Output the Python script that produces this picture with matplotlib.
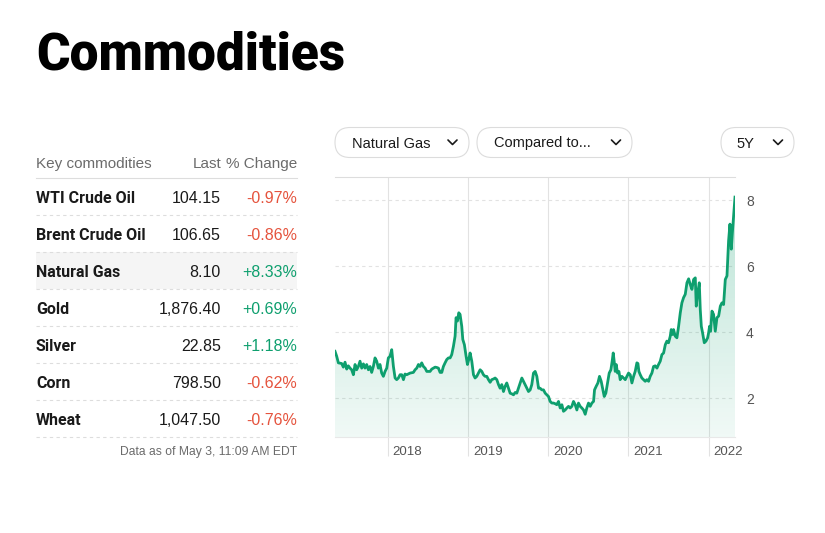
import matplotlib
matplotlib.use("Agg")
import matplotlib.pyplot as plt
import matplotlib.transforms as mtransforms
from matplotlib.patches import FancyBboxPatch, Rectangle
from matplotlib.lines import Line2D
from matplotlib.colors import to_rgb
import numpy as np

# table data
names = ["WTI Crude Oil", "Brent Crude Oil", "Natural Gas", "Gold", "Silver", "Corn", "Wheat"]
last = ["104.15", "106.65", "8.10", "1,876.40", "22.85", "798.50", "1,047.50"]
change = ["-0.97%", "-0.86%", "+8.33%", "+0.69%", "+1.18%", "-0.62%", "-0.76%"]

# natural gas, 5 years (decimal year, price)
years = [
    2017.343, 2017.364, 2017.385, 2017.426, 2017.447, 2017.468, 2017.489, 2017.509, 2017.530, 2017.551,
    2017.572, 2017.593, 2017.613, 2017.634, 2017.655, 2017.676, 2017.697, 2017.717, 2017.738, 2017.759,
    2017.780, 2017.800, 2017.821, 2017.842, 2017.863, 2017.884, 2017.904, 2017.925, 2017.946, 2017.967,
    2017.988, 2018.008, 2018.029, 2018.050, 2018.071, 2018.092, 2018.112, 2018.133, 2018.154, 2018.175,
    2018.196, 2018.216, 2018.237, 2018.279, 2018.320, 2018.341, 2018.362, 2018.383, 2018.403, 2018.424,
    2018.445, 2018.466, 2018.487, 2018.528, 2018.549, 2018.570, 2018.591, 2018.611, 2018.632, 2018.653,
    2018.674, 2018.694, 2018.715, 2018.736, 2018.757, 2018.778, 2018.798, 2018.819, 2018.840, 2018.852,
    2018.869, 2018.886, 2018.902, 2018.923, 2018.936, 2018.956, 2018.977, 2018.994, 2019.010, 2019.027,
    2019.048, 2019.069, 2019.089, 2019.110, 2019.131, 2019.152, 2019.173, 2019.193, 2019.214, 2019.235,
    2019.256, 2019.277, 2019.297, 2019.318, 2019.339, 2019.360, 2019.381, 2019.401, 2019.422, 2019.443,
    2019.464, 2019.484, 2019.505, 2019.526, 2019.547, 2019.568, 2019.588, 2019.609, 2019.630, 2019.651,
    2019.672, 2019.692, 2019.713, 2019.734, 2019.755, 2019.776, 2019.796, 2019.817, 2019.838, 2019.859,
    2019.880, 2019.900, 2019.921, 2019.942, 2019.963, 2019.983, 2020.004, 2020.025, 2020.046, 2020.067,
    2020.087, 2020.108, 2020.129, 2020.150, 2020.171, 2020.191, 2020.212, 2020.233, 2020.254, 2020.274,
    2020.295, 2020.316, 2020.337, 2020.358, 2020.378, 2020.399, 2020.420, 2020.441, 2020.462, 2020.482,
    2020.503, 2020.524, 2020.545, 2020.566, 2020.578, 2020.599, 2020.620, 2020.640, 2020.661, 2020.682,
    2020.699, 2020.719, 2020.740, 2020.761, 2020.782, 2020.798, 2020.811, 2020.823, 2020.836, 2020.848,
    2020.865, 2020.882, 2020.898, 2020.919, 2020.940, 2020.961, 2020.981, 2021.002, 2021.023, 2021.044,
    2021.065, 2021.085, 2021.106, 2021.119, 2021.131, 2021.148, 2021.168, 2021.189, 2021.210, 2021.231,
    2021.252, 2021.272, 2021.293, 2021.314, 2021.335, 2021.356, 2021.376, 2021.397, 2021.418, 2021.439,
    2021.460, 2021.480, 2021.501, 2021.522, 2021.534, 2021.551, 2021.563, 2021.584, 2021.605, 2021.626,
    2021.647, 2021.667, 2021.688, 2021.709, 2021.730, 2021.751, 2021.771, 2021.792, 2021.813, 2021.834,
    2021.846, 2021.859, 2021.871, 2021.884, 2021.896, 2021.909, 2021.925, 2021.946, 2021.967, 2021.988,
    2022.000, 2022.012, 2022.025, 2022.042, 2022.062, 2022.083, 2022.104, 2022.125, 2022.146, 2022.166,
    2022.187, 2022.208, 2022.229, 2022.249, 2022.266, 2022.283, 2022.295, 2022.312, 2022.329,
]
prices = [
    3.42, 3.27, 3.07, 3.05, 2.94, 3.09, 2.88, 2.98, 2.91, 2.86,
    2.71, 3.02, 2.86, 2.96, 3.12, 2.91, 3.04, 2.91, 3.02, 2.86,
    2.96, 2.78, 2.96, 3.22, 3.12, 2.91, 3.02, 2.76, 2.66, 2.81,
    2.91, 3.22, 3.27, 3.47, 2.96, 2.61, 2.56, 2.61, 2.71, 2.71,
    2.56, 2.73, 2.71, 2.76, 2.78, 2.86, 2.91, 3.02, 2.96, 3.07,
    2.96, 2.91, 2.81, 2.81, 2.88, 2.91, 2.94, 2.93, 2.91, 2.78,
    2.78, 2.96, 3.07, 3.17, 3.22, 3.22, 3.32, 3.57, 3.88, 4.44,
    4.34, 4.59, 4.54, 4.18, 3.78, 3.62, 3.27, 3.02, 3.17, 3.37,
    3.12, 2.71, 2.61, 2.66, 2.76, 2.86, 2.81, 2.71, 2.66, 2.66,
    2.56, 2.48, 2.56, 2.58, 2.61, 2.56, 2.41, 2.30, 2.41, 2.20,
    2.36, 2.46, 2.30, 2.15, 2.13, 2.10, 2.17, 2.15, 2.30, 2.46,
    2.61, 2.51, 2.41, 2.30, 2.20, 2.25, 2.41, 2.76, 2.81, 2.66,
    2.30, 2.30, 2.25, 2.25, 2.15, 2.10, 2.05, 1.90, 1.85, 1.85,
    1.83, 1.80, 1.90, 1.70, 1.80, 1.60, 1.64, 1.70, 1.75, 1.70,
    1.75, 1.90, 1.80, 1.64, 1.85, 1.75, 1.70, 1.64, 1.51, 1.70,
    1.85, 1.75, 1.85, 1.90, 2.25, 2.36, 2.46, 2.66, 2.51, 2.25,
    2.05, 2.15, 2.46, 2.76, 2.86, 3.12, 3.37, 3.12, 2.81, 3.02,
    2.76, 2.81, 2.56, 2.66, 2.61, 2.56, 2.66, 2.76, 2.71, 2.46,
    2.66, 2.81, 3.07, 3.05, 2.81, 2.71, 2.61, 2.56, 2.51, 2.56,
    2.51, 2.66, 2.76, 2.96, 2.98, 2.91, 3.02, 3.12, 3.32, 3.37,
    3.62, 3.73, 3.68, 3.88, 4.08, 3.93, 4.08, 3.88, 3.83, 4.18,
    4.59, 4.89, 5.05, 5.15, 5.50, 5.62, 5.45, 5.30, 5.60, 5.65,
    4.79, 5.10, 5.30, 5.50, 4.69, 4.18, 3.98, 3.68, 3.73, 3.83,
    3.98, 4.18, 4.03, 4.64, 4.54, 4.03, 4.44, 4.49, 4.79, 4.89,
    4.84, 5.60, 5.71, 6.77, 7.28, 6.52, 6.98, 7.54, 8.10,
]

year_ticks = [2018, 2019, 2020, 2021, 2022]
price_ticks = [2, 4, 6, 8]

green = "#0e9f6e"
red = "#e5533d"
grid = "#e2e2e2"
dark = "#1a1a1a"
gray = "#6b6b6b"
heavy = ["Roboto", "DejaVu Sans"]
sans = ["Liberation Sans", "DejaVu Sans"]

W, H = 825, 533
fig = plt.figure(figsize=(W / 100, H / 100), dpi=100)
# pixel coords, origin top-left
px = mtransforms.Affine2D().scale(0.01, -0.01).translate(0, H / 100) + fig.dpi_scale_trans


def txt(x, y, s, **kw):
    fig.text(x, y, s, transform=px, **kw)


def hline(x0, x1, y, **kw):
    fig.add_artist(Line2D([x0, x1], [y, y], transform=px, **kw))


# title
txt(36, 70, "Commodities", family=heavy, fontweight="black", fontsize=37, color="#000000", va="baseline")

# table
txt(36, 168, "Key commodities", family=sans, fontsize=11, color=gray, va="baseline")
txt(221, 168, "Last", family=sans, fontsize=11, color=gray, ha="right", va="baseline")
txt(297, 168, "% Change", family=sans, fontsize=11, color=gray, ha="right", va="baseline")
hline(36, 297, 178, color="#dddddd", lw=0.8)

row_h = 37
for i, (n, v, c) in enumerate(zip(names, last, change)):
    top = 178 + i * row_h
    if n == "Natural Gas":
        fig.add_artist(Rectangle((36, top), 261, row_h, transform=px,
                                 facecolor="#f5f5f5", edgecolor="none", zorder=0))
    base = top + 25
    txt(36, base, n, family=heavy, fontweight="bold", fontsize=11.5, color=dark, va="baseline")
    txt(221, base, v, family=sans, fontsize=11.5, color=dark, ha="right", va="baseline")
    txt(297, base, c, family=sans, fontsize=11.5, color=green if c.startswith("+") else red,
        ha="right", va="baseline")
    hline(36, 297, top + row_h, color="#dddddd", lw=0.8, linestyle=(0, (3, 3)))

txt(297, 455, "Data as of May 3, 11:09 AM EDT", family=sans, fontsize=8.7, color=gray,
    ha="right", va="baseline")

# dropdown pills
pills = [(335, 469, "Natural Gas", 351.5, 452.5), (477, 632, "Compared to...", 494, 616),
         (721, 794, "5Y", 736.5, 778)]
for x0, x1, label, tx, cx in pills:
    fig.add_artist(FancyBboxPatch((x0, 127.5), x1 - x0, 30, transform=px,
                                  boxstyle="round,pad=0,rounding_size=15",
                                  facecolor="white", edgecolor="#dcdcdc", lw=0.8))
    txt(tx, 147.5, label, family=sans, fontsize=10.5, color=dark, va="baseline")
    fig.add_artist(Line2D([cx - 4.5, cx, cx + 4.5], [140, 144.5, 140], transform=px,
                          color=dark, lw=1.2, solid_capstyle="round", solid_joinstyle="round"))

# chart
ax = fig.add_axes([335 / W, 1 - 437 / H, 400 / W, 260 / H])
y0, y1 = 0.82, 8.71
ax.set_xlim(years[0], years[-1])
ax.set_ylim(y0, y1)

for v in price_ticks:
    ax.axhline(v, color=grid, lw=0.8, linestyle=(0, (3, 3)), zorder=0)
ax.vlines(year_ticks, y0 - 0.58, y1, color=grid, lw=0.8, zorder=0, clip_on=False)

# gradient fill under the line
rgba = np.zeros((256, 1, 4))
rgba[..., :3] = to_rgb(green)
rgba[..., 3] = np.linspace(0.06, 0.3, 256)[:, None]
im = ax.imshow(rgba, origin="lower", aspect="auto", zorder=1,
               extent=[years[0], years[-1], y0, y1])
poly = ax.fill_between(years, prices, y0, color="none", lw=0)
im.set_clip_path(poly.get_paths()[0], transform=ax.transData)

ax.plot(years, prices, color=green, lw=2, zorder=3, solid_joinstyle="round")

for s in ["left", "right"]:
    ax.spines[s].set_visible(False)
ax.spines["top"].set_color("#dddddd")
ax.spines["bottom"].set_color("#e8e8e8")
ax.spines["top"].set_linewidth(0.8)
ax.spines["bottom"].set_linewidth(0.8)

ax.yaxis.tick_right()
ax.set_yticks(price_ticks)
ax.set_yticklabels([str(v) for v in price_ticks], family=sans, fontsize=10, color="#555555")
ax.tick_params(axis="y", length=0, pad=8)
ax.set_xticks([])
for yr in year_ticks:
    ax.annotate(str(yr), xy=(yr, 0), xycoords=("data", "axes fraction"), xytext=(5, -18),
                textcoords="offset pixels", ha="left", va="baseline",
                family=sans, fontsize=9.5, color="#555555")

fig.savefig("out.png", dpi=100)
